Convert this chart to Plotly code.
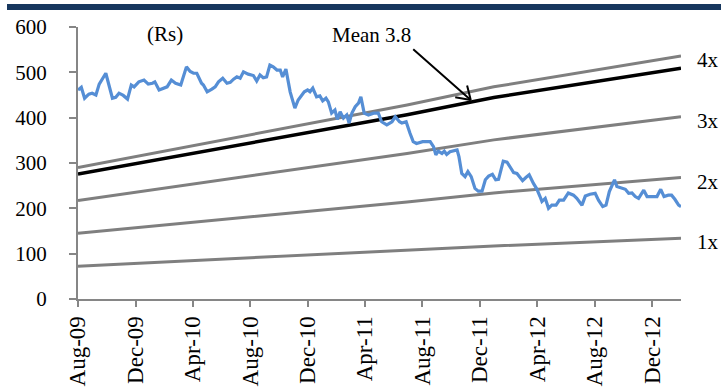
import plotly.graph_objects as go

# Weekly share price (Rs)
price_dates = [
    "2009-08-01", "2009-08-08", "2009-08-15", "2009-08-24", "2009-08-31", "2009-09-08", "2009-09-15",
    "2009-09-29", "2009-10-13", "2009-10-20", "2009-10-27", "2009-11-05", "2009-11-14", "2009-11-22",
    "2009-11-28", "2009-12-08", "2009-12-19", "2009-12-28", "2010-01-06", "2010-01-11", "2010-01-20",
    "2010-01-30", "2010-02-06", "2010-02-15", "2010-02-24", "2010-03-07", "2010-03-19", "2010-03-27",
    "2010-04-03", "2010-04-10", "2010-04-20", "2010-04-24", "2010-05-02", "2010-05-12", "2010-05-19",
    "2010-05-26", "2010-06-04", "2010-06-13", "2010-06-20", "2010-06-27", "2010-07-04", "2010-07-11",
    "2010-07-18", "2010-07-28", "2010-08-08", "2010-08-15", "2010-08-22", "2010-08-29", "2010-09-05",
    "2010-09-12", "2010-09-19", "2010-09-27", "2010-10-04", "2010-10-09", "2010-10-16", "2010-10-25",
    "2010-11-04", "2010-11-11", "2010-11-19", "2010-11-24", "2010-12-01", "2010-12-06", "2010-12-12",
    "2010-12-20", "2010-12-27", "2011-01-02", "2011-01-09", "2011-01-14", "2011-01-21", "2011-01-28",
    "2011-02-02", "2011-02-08", "2011-02-15", "2011-02-22", "2011-02-27", "2011-03-05", "2011-03-12",
    "2011-03-19", "2011-03-24", "2011-03-31", "2011-04-09", "2011-04-20", "2011-04-30", "2011-05-07",
    "2011-05-18", "2011-05-29", "2011-06-05", "2011-06-14", "2011-06-19", "2011-06-28", "2011-07-06",
    "2011-07-13", "2011-07-20", "2011-07-26", "2011-08-02", "2011-08-11", "2011-08-18", "2011-08-25",
    "2011-08-30", "2011-09-04", "2011-09-12", "2011-09-17", "2011-09-22", "2011-09-29", "2011-10-04",
    "2011-10-14", "2011-10-18", "2011-10-24", "2011-10-31", "2011-11-06", "2011-11-13", "2011-11-21",
    "2011-11-28", "2011-12-06", "2011-12-13", "2011-12-20", "2011-12-28", "2012-01-04", "2012-01-10",
    "2012-01-15", "2012-01-20", "2012-01-28", "2012-02-04", "2012-02-11", "2012-02-18", "2012-02-25",
    "2012-03-01", "2012-03-08", "2012-03-15", "2012-03-24", "2012-03-31", "2012-04-07", "2012-04-11",
    "2012-04-18", "2012-04-25", "2012-05-02", "2012-05-11", "2012-05-18", "2012-05-27", "2012-06-06",
    "2012-06-17", "2012-06-24", "2012-07-05", "2012-07-12", "2012-07-22", "2012-08-02", "2012-08-09",
    "2012-08-18", "2012-08-25", "2012-09-01", "2012-09-12", "2012-09-17", "2012-09-28", "2012-10-05",
    "2012-10-12", "2012-10-19", "2012-10-26", "2012-11-02", "2012-11-13", "2012-11-20", "2012-11-30",
    "2012-12-11", "2012-12-19", "2012-12-26", "2013-01-04", "2013-01-11", "2013-01-18", "2013-01-26",
    "2013-01-31",
]
price_values = [
    461, 467, 443, 452, 454, 450, 474,
    498, 443, 445, 454, 449, 441, 472,
    468, 479, 483, 474, 476, 479, 461,
    465, 468, 483, 476, 472, 512, 502,
    498, 498, 476, 472, 457, 463, 468,
    479, 487, 476, 478, 485, 490, 487,
    501, 496, 493, 481, 494, 488, 490,
    516, 512, 505, 505, 490, 507, 457,
    421, 439, 452, 457, 461, 457, 465,
    446, 448, 437, 443, 435, 410, 417,
    396, 413, 399, 406, 388, 410, 424,
    432, 446, 410, 406, 410, 410, 391,
    384, 391, 402, 391, 388, 391, 366,
    347, 343, 345, 347, 347, 347, 336,
    318, 326, 321, 326, 319, 325, 326,
    329, 314, 277, 270, 281, 270, 244,
    238, 238, 263, 271, 275, 263, 264,
    281, 304, 302, 292, 279, 277, 268,
    261, 268, 274, 255, 243, 226, 215,
    222, 200, 207, 207, 218, 218, 234,
    229, 222, 207, 227, 231, 233, 218,
    204, 207, 237, 263, 248, 244, 242,
    233, 234, 226, 222, 240, 226, 226,
    226, 242, 226, 229, 229, 220, 207,
    204,
]

# Trailing EPS (Rs) used for the P/E bands
eps_dates = ["2009-08-01", "2010-06-30", "2011-06-30", "2011-12-31", "2013-01-31"]
eps_values = [72.5, 89.0, 107.0, 117.0, 134.0]

band_multiples = [1, 2, 3, 4]
band_labels = ["1x", "2x", "3x", "4x"]
mean_multiple = 3.8
mean_label = "Mean 3.8"
unit_label = "(Rs)"

serif = "Liberation Serif"
axis_grey = "#868686"

# Page geometry (pixels)
L, R, T, B = 78, 40, 27, 93
W, H = 721, 392
PW, PH = W - L - R, H - T - B


def px_to_paper(px, py):
    return (px - L) / PW, 1 - (py - T) / PH


fig = go.Figure()

for m in band_multiples:
    fig.add_trace(go.Scatter(
        x=eps_dates, y=[m * e for e in eps_values], mode="lines",
        line=dict(color="#7F7F7F", width=3), hoverinfo="skip",
    ))

fig.add_trace(go.Scatter(
    x=eps_dates, y=[mean_multiple * e for e in eps_values], mode="lines",
    line=dict(color="#000000", width=3.5), hoverinfo="skip",
))

fig.add_trace(go.Scatter(
    x=price_dates, y=price_values, mode="lines",
    line=dict(color="#558ED5", width=3.2),
))

# Band labels at the right end of each band
for m, lab in zip(band_multiples, band_labels):
    fig.add_annotation(
        x=eps_dates[-1], y=m * eps_values[-1], text=lab, showarrow=False,
        xanchor="left", yanchor="middle", xshift=14, yshift=-4,
        font=dict(family=serif, size=21, color="#000000"),
    )

# Arrow pointing at the mean band
tip_x = "2011-11-12"
tip_y = mean_multiple * 115.5
fig.add_annotation(
    x=tip_x, y=tip_y, xref="x", yref="y", text="", showarrow=True,
    arrowhead=0, arrowwidth=2, arrowcolor="#000000", ax=-59, ay=-52,
)
for bx, by in [(-4, -16), (-17, -3)]:
    fig.add_annotation(
        x=tip_x, y=tip_y, xref="x", yref="y", text="", showarrow=True,
        arrowhead=0, arrowwidth=2, arrowcolor="#000000", ax=bx, ay=by,
    )

mx, my = px_to_paper(371, 35)
fig.add_annotation(
    x=mx, y=my, xref="paper", yref="paper", text=mean_label, showarrow=False,
    xanchor="center", yanchor="middle",
    font=dict(family=serif, size=21, color="#000000"),
)
ux, uy = px_to_paper(165, 34)
fig.add_annotation(
    x=ux, y=uy, xref="paper", yref="paper", text=unit_label, showarrow=False,
    xanchor="center", yanchor="middle",
    font=dict(family=serif, size=21, color="#000000"),
)

# Dark rule across the top of the page
x0, y0 = px_to_paper(7, 10)
x1, y1 = px_to_paper(W, 4)
fig.add_shape(
    type="rect", xref="paper", yref="paper", x0=x0, x1=x1, y0=y0, y1=y1,
    fillcolor="#17375E", line=dict(width=0), layer="above",
)

fig.update_layout(
    width=W, height=H,
    margin=dict(l=L, r=R, t=T, b=B, autoexpand=False),
    paper_bgcolor="white", plot_bgcolor="white",
    showlegend=False,
    font=dict(family=serif, size=21, color="#000000"),
    xaxis=dict(
        type="date", range=["2009-08-01", "2013-01-31"],
        tick0="2009-08-01", dtick="M4", tickformat="%b-%y", tickangle=-90,
        showgrid=False, zeroline=False, automargin=False,
        showline=True, linecolor=axis_grey, linewidth=2,
        ticks="outside", ticklen=6, tickwidth=2, tickcolor=axis_grey,
        tickfont=dict(family=serif, size=23, color="#000000"),
    ),
    yaxis=dict(
        range=[0, 600], tick0=0, dtick=100,
        showgrid=False, zeroline=False, automargin=False,
        showline=True, linecolor=axis_grey, linewidth=2,
        ticks="outside", ticklen=7, tickwidth=2, tickcolor=axis_grey,
        tickfont=dict(family=serif, size=21, color="#000000"),
        ticklabelstandoff=18,
    ),
)

fig.write_html("out.html")
